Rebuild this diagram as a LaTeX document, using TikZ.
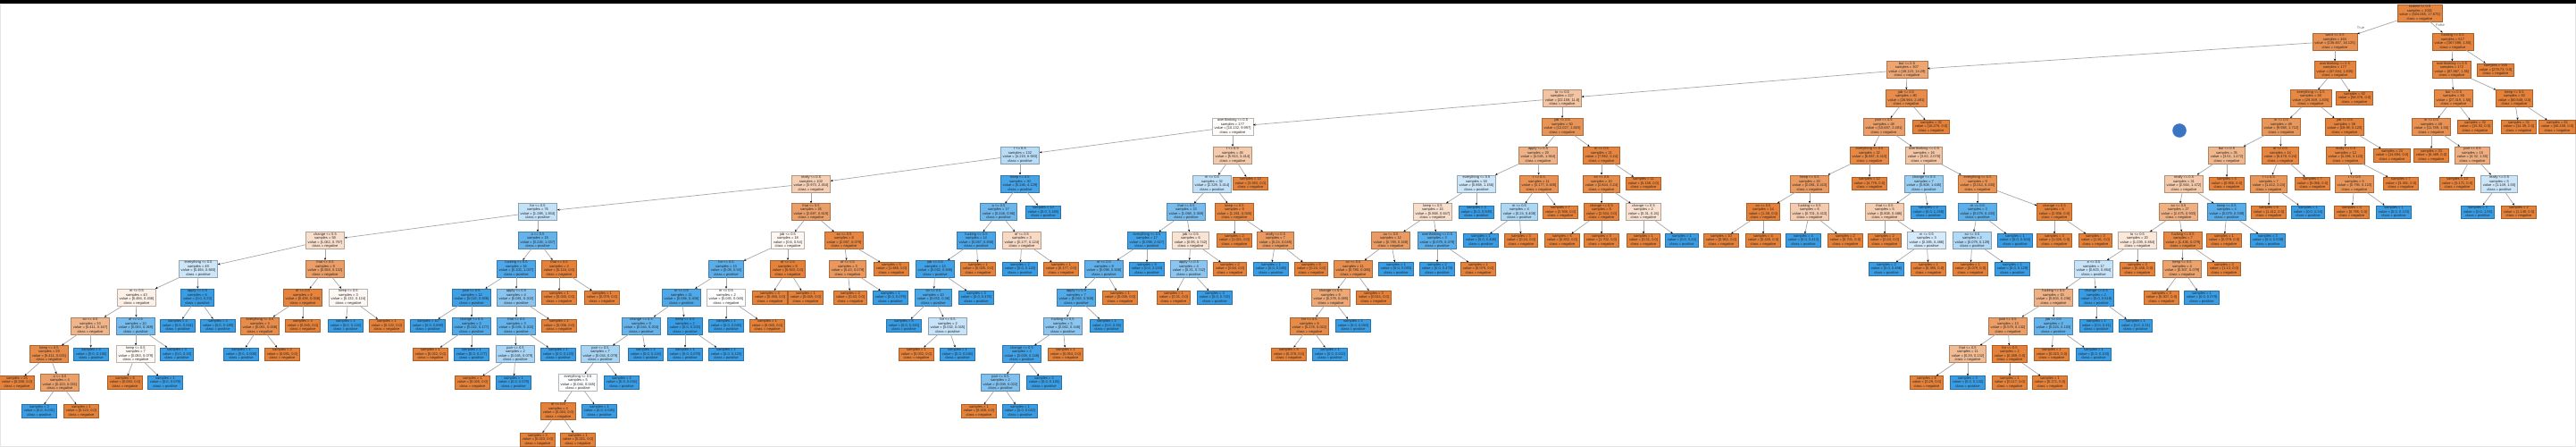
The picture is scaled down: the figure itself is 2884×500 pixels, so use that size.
\documentclass[tikz,border=0pt]{standalone}
\usepackage{fontspec}
\usetikzlibrary{arrows.meta}
\newfontfamily\gvfont{Liberation Sans}
\definecolor{Co}{HTML}{E58139}
\definecolor{Cb}{HTML}{399DE5}
\definecolor{dotblue}{HTML}{3A75C4}
\def\clso{negative}
\def\clsb{positive}
\tikzset{
  tn/.style={line width=0.5pt, align=center,
    font=\gvfont\fontsize{4}{4.5}\selectfont, text=black!85,
    inner xsep=2.4pt, inner ysep=0.9pt},
  edge/.style={draw=black!35, line width=0.7pt,
    -{Stealth[length=2.6pt,width=2.2pt,color=black]}},
  elab/.style={font=\gvfont\fontsize{4}{4.5}\selectfont, text=black!60}
}
% decision node: id, parent, x, depth, class(o/b), percent, feature, samples, values
\newcommand\TN[9]{%
  \node[tn, fill=C#5!#6!white, draw=C#5!#6!white!72!black] (#1) at (#3,{14.5+31.8*#4})
    {#7 <= 0.5\\samples = #8\\value = [#9]\\class = \csname cls#5\endcsname};
  \draw[edge] (#2) -- (#1);}
% leaf: id, parent, x, depth, class, percent, samples, values
\newcommand\TL[8]{%
  \node[tn, fill=C#5!#6!white, draw=C#5!#6!white!72!black] (#1) at (#3,{14.5+31.8*#4})
    {samples = #7\\value = [#8]\\class = \csname cls#5\endcsname};
  \draw[edge] (#2) -- (#1);}
\begin{document}
\begin{tikzpicture}[x=1pt,y=-1pt]
\useasboundingbox (0,0) rectangle (2884,500);
\fill[white] (0,0) rectangle (2884,500);
\draw[black!10, line width=1pt] (0.5,4.5) rectangle (2883.5,499.5);
\fill[black] (0,0) rectangle (2884,4.2);
\fill[dotblue] (2440,146) circle (7.8);
% root
\node[tn, fill=Co!97!white, draw=Co!97!white!72!black] (r) at (2709,14.5)
  {scared <= 0.5\\samples = 1001\\value = [504.065, 17.675]\\class = negative};
\TN{r1}{r}{2614}{1}{o}{88}{want}{484}{136.467, 16.125}
\TN{r2}{r}{2746}{1}{o}{99}{fucking}{517}{367.598, 1.55}
\node[elab] (lt) at (2643,31) {True};
\node[elab] (lf) at (2732,28) {False};
% right of root
\TN{r21}{r2}{2745}{2}{o}{98}{overthinking}{172}{87.867, 1.55}
\TL{r22}{r2}{2794}{2}{o}{100}{345}{279.73, 0.0}
\TN{r211}{r21}{2747}{3}{o}{94}{but}{80}{27.319, 1.55}
\TN{r212}{r21}{2815}{3}{o}{100}{keep}{92}{60.548, 0.0}
\TN{r2111}{r211}{2722}{4}{o}{87}{m}{48}{11.789, 1.55}
\TL{r2112}{r211}{2771}{4}{o}{100}{32}{15.53, 0.0}
\TL{r2121}{r212}{2820}{4}{o}{100}{31}{14.39, 0.0}
\TL{r2122}{r212}{2863}{4}{o}{100}{61}{46.158, 0.0}
\TL{r21111}{r2111}{2722}{5}{o}{100}{33}{6.469, 0.0}
\TN{r21112}{r2111}{2768}{5}{o}{64}{pair}{15}{4.32, 1.55}
\TL{r211121}{r21112}{2751}{6}{o}{100}{10}{3.171, 0.0}
\TN{r211122}{r21112}{2798}{6}{b}{26}{really}{5}{1.149, 1.55}
\TL{r2111221}{r211122}{2774}{7}{b}{100}{3}{0.0, 1.55}
\TL{r2111222}{r211122}{2820}{7}{o}{100}{2}{1.149, 0.0}
% want subtree
\TN{a}{r1}{2135}{2}{o}{71}{but}{307}{49.123, 14.29}
\TN{b}{r1}{2614}{2}{o}{98}{overthinking}{177}{87.344, 1.835}
\TN{b1}{b}{2587}{3}{o}{94}{everything}{85}{29.369, 1.835}
\TL{b2}{b}{2636}{3}{o}{100}{92}{58.376, 0.0}
\TN{b11}{b1}{2554}{4}{o}{83}{m}{49}{9.988, 1.712}
\TN{b12}{b1}{2625}{4}{o}{99}{job}{36}{18.98, 0.123}
\TN{b111}{b11}{2493}{5}{o}{58}{but}{35}{3.51, 1.472}
\TN{b112}{b11}{2553}{5}{o}{96}{of}{14}{6.478, 0.24}
\TN{b121}{b12}{2626}{5}{o}{97}{really}{12}{4.286, 0.123}
\TL{b122}{b12}{2678}{5}{o}{100}{24}{14.694, 0.0}
\TN{b1111}{b111}{2445}{6}{o}{43}{really}{31}{2.564, 1.472}
\TL{b1112}{b111}{2493}{6}{o}{100}{4}{0.956, 0.0}
\TN{b1121}{b112}{2540}{6}{o}{83}{t}{7}{1.412, 0.24}
\TL{b1122}{b112}{2589}{6}{o}{100}{7}{5.066, 0.0}
\TN{b1211}{b121}{2636}{6}{o}{85}{t}{5}{0.795, 0.123}
\TL{b1212}{b121}{2688}{6}{o}{100}{7}{3.491, 0.0}
\TN{b11111}{b1111}{2439}{7}{o}{62}{so}{27}{2.475, 0.933}
\TN{b11112}{b1111}{2493}{7}{b}{85}{keep}{4}{0.079, 0.539}
\TL{b11211}{b1121}{2540}{7}{o}{100}{6}{1.412, 0.0}
\TL{b11212}{b1121}{2584}{7}{b}{100}{1}{0.0, 0.24}
\TL{b12111}{b1211}{2633}{7}{o}{100}{4}{0.795, 0.0}
\TL{b12112}{b1211}{2680}{7}{b}{100}{1}{0.0, 0.123}
\TN{b111111}{b11111}{2393}{8}{o}{18}{to}{20}{1.039, 0.854}
\TN{b111112}{b11111}{2444}{8}{o}{95}{fucking}{7}{1.436, 0.079}
\TL{b111121}{b11112}{2490}{8}{o}{100}{1}{0.079, 0.0}
\TL{b111122}{b11112}{2539}{8}{b}{100}{3}{0.0, 0.539}
\TN{c1}{b111111}{2344}{9}{b}{29}{a}{17}{0.603, 0.854}
\TL{c2}{b111111}{2393}{9}{o}{100}{3}{0.436, 0.0}
\TN{c3}{b111112}{2443}{9}{o}{74}{keep}{4}{0.307, 0.079}
\TL{c4}{b111112}{2490}{9}{o}{100}{3}{1.13, 0.0}
\TN{c11}{c1}{2299}{10}{o}{61}{fucking}{15}{0.603, 0.236}
\TN{c12}{c1}{2347}{10}{b}{100}{change}{2}{0.0, 0.618}
\TL{c31}{c3}{2420}{10}{o}{100}{3}{0.307, 0.0}
\TL{c32}{c3}{2465}{10}{b}{100}{1}{0.0, 0.079}
\TN{c111}{c11}{2248}{11}{o}{77}{pair}{13}{0.579, 0.132}
\TN{c112}{c11}{2299}{11}{b}{78}{job}{2}{0.023, 0.103}
\TL{c121}{c12}{2347}{11}{b}{100}{1}{0.0, 0.31}
\TL{c122}{c12}{2391}{11}{b}{100}{1}{0.0, 0.31}
\TN{c1111}{c111}{2203}{12}{o}{54}{that}{11}{0.29, 0.132}
\TN{c1112}{c111}{2250}{12}{o}{100}{for}{2}{0.289, 0.0}
\TL{c1121}{c112}{2297}{12}{o}{100}{1}{0.023, 0.0}
\TL{c1122}{c112}{2344}{12}{b}{100}{1}{0.0, 0.103}
\TL{c11111}{c1111}{2157}{13}{o}{100}{8}{0.29, 0.0}
\TL{c11112}{c1111}{2203}{13}{b}{100}{3}{0.0, 0.132}
\TL{c11121}{c1112}{2250}{13}{o}{100}{1}{0.117, 0.0}
\TL{c11122}{c1112}{2295}{13}{o}{100}{1}{0.171, 0.0}
% but(307) subtree
\TN{a1}{a}{1749}{3}{o}{47}{to}{227}{22.159, 11.8}
\TN{a2}{a}{2134}{3}{o}{91}{job}{80}{26.964, 2.491}
\TN{a21}{a2}{2109}{4}{o}{77}{pair}{48}{10.687, 2.491}
\TL{a22}{a2}{2162}{4}{o}{100}{32}{16.276, 0.0}
\TN{a211}{a21}{2093}{5}{o}{94}{everything}{32}{6.867, 0.413}
\TN{a212}{a21}{2154}{5}{o}{46}{overthinking}{16}{3.82, 2.078}
\TN{a2111}{a211}{2026}{6}{o}{80}{keep}{20}{2.081, 0.413}
\TL{a2112}{a211}{2093}{6}{o}{100}{12}{4.778, 0.0}
\TN{a2121}{a212}{2154}{6}{b}{51}{change}{7}{0.808, 1.645}
\TN{a2122}{a212}{2214}{6}{o}{86}{everything}{9}{3.014, 0.433}
\TN{a21111}{a2111}{1974}{7}{o}{100}{so}{14}{1.38, 0.0}
\TN{a21112}{a2111}{2026}{7}{o}{41}{fucking}{6}{0.701, 0.413}
\TN{a21211}{a2121}{2110}{7}{o}{40}{that}{5}{0.808, 0.486}
\TL{a21212}{a2121}{2159}{7}{b}{100}{2}{0.0, 1.158}
\TN{a21221}{a2122}{2214}{7}{b}{82}{m}{3}{0.079, 0.433}
\TN{a21222}{a2122}{2300}{7}{o}{100}{change}{6}{2.936, 0.0}
\TL{a211111}{a21111}{1927}{8}{o}{100}{10}{0.962, 0.0}
\TL{a211112}{a21111}{1974}{8}{o}{100}{4}{0.426, 0.0}
\TL{a211121}{a21112}{2019}{8}{b}{100}{4}{0.0, 0.413}
\TL{a211122}{a21112}{2066}{8}{o}{100}{2}{0.701, 0.0}
\TL{a212111}{a21211}{2110}{8}{o}{100}{2}{0.43, 0.0}
\TN{a212112}{a21211}{2157}{8}{b}{21}{m}{3}{0.385, 0.486}
\TN{a212211}{a21221}{2208}{8}{b}{39}{so}{2}{0.079, 0.129}
\TL{a212212}{a21221}{2256}{8}{b}{100}{1}{0.0, 0.304}
\TL{a212221}{a21222}{2300}{8}{o}{100}{3}{1.026, 0.0}
\TL{a212222}{a21222}{2346}{8}{o}{100}{3}{1.91, 0.0}
\TL{d1}{a212112}{2112}{9}{b}{100}{2}{0.0, 0.486}
\TL{d2}{a212112}{2159}{9}{o}{100}{1}{0.385, 0.0}
\TL{d3}{a212211}{2206}{9}{o}{100}{1}{0.079, 0.0}
\TL{d4}{a212211}{2253}{9}{b}{100}{1}{0.0, 0.129}
% to(227) subtree
\TN{e}{a1}{1380}{4}{o}{2}{overthinking}{177}{10.132, 9.997}
\TN{f}{a1}{1749}{4}{o}{85}{job}{50}{12.027, 1.803}
\TN{f1}{f}{1722}{5}{o}{61}{apply}{29}{4.045, 1.564}
\TN{f2}{f}{1793}{5}{o}{97}{m}{21}{7.982, 0.24}
\TN{f11}{f1}{1653}{6}{b}{25}{everything}{18}{0.868, 1.156}
\TN{f12}{f1}{1723}{6}{o}{87}{t}{11}{3.177, 0.408}
\TN{f21}{f2}{1793}{6}{o}{92}{so}{10}{2.844, 0.24}
\TL{f22}{f2}{1840}{6}{o}{100}{11}{5.138, 0.0}
\TN{f111}{f11}{1604}{7}{o}{25}{keep}{15}{0.868, 0.647}
\TL{f112}{f11}{1653}{7}{b}{100}{3}{0.0, 0.509}
\TN{f121}{f12}{1701}{7}{b}{41}{m}{4}{0.24, 0.408}
\TL{f122}{f12}{1747}{7}{o}{100}{7}{2.936, 0.0}
\TN{f211}{f21}{1793}{7}{o}{100}{change}{8}{2.534, 0.0}
\TN{f212}{f21}{1840}{7}{o}{23}{change}{2}{0.31, 0.24}
\TN{f1111}{f111}{1557}{8}{o}{79}{au}{12}{0.789, 0.168}
\TN{f1112}{f111}{1609}{8}{b}{84}{overthinking}{3}{0.079, 0.479}
\TL{f1211}{f121}{1658}{8}{b}{100}{1}{0.0, 0.408}
\TL{f1212}{f121}{1703}{8}{o}{100}{3}{0.24, 0.0}
\TL{f2111}{f211}{1749}{8}{o}{100}{5}{0.832, 0.0}
\TL{f2112}{f211}{1793}{8}{o}{100}{3}{1.702, 0.0}
\TL{f2121}{f212}{1840}{8}{o}{100}{1}{0.31, 0.0}
\TL{f2122}{f212}{1883}{8}{b}{100}{1}{0.0, 0.24}
\TN{f11111}{f1111}{1515}{9}{o}{89}{so}{11}{0.789, 0.085}
\TL{f11112}{f1111}{1563}{9}{b}{100}{1}{0.0, 0.083}
\TL{f11121}{f1112}{1609}{9}{b}{100}{2}{0.0, 0.479}
\TL{f11122}{f1112}{1655}{9}{o}{100}{1}{0.079, 0.0}
\TN{f111111}{f11111}{1490}{10}{o}{69}{change}{8}{0.278, 0.085}
\TL{f111112}{f11111}{1538}{10}{o}{100}{3}{0.511, 0.0}
\TN{f1111111}{f111111}{1466}{11}{o}{92}{for}{6}{0.278, 0.022}
\TL{f1111112}{f111111}{1515}{11}{b}{100}{2}{0.0, 0.063}
\TL{g1}{f1111111}{1443}{12}{o}{100}{5}{0.278, 0.0}
\TL{g2}{f1111111}{1489}{12}{b}{100}{1}{0.0, 0.022}
% overthinking(177) subtree
\TN{e1}{e}{1142}{5}{b}{36}{I}{132}{4.219, 6.583}
\TN{e2}{e}{1380}{5}{o}{42}{t}{45}{5.913, 3.414}
\TN{e21}{e2}{1357}{6}{b}{32}{m}{32}{2.329, 3.414}
\TL{e22}{e2}{1400}{6}{o}{100}{13}{3.583, 0.0}
\TN{e211}{e21}{1328}{7}{b}{68}{that}{23}{1.068, 3.369}
\TN{e212}{e21}{1382}{7}{o}{96}{keep}{9}{1.261, 0.045}
\TN{e2111}{e211}{1284}{8}{b}{96}{everything}{17}{0.098, 2.627}
\TN{e2112}{e211}{1333}{8}{o}{22}{job}{6}{0.95, 0.742}
\TL{e2121}{e212}{1382}{8}{o}{100}{2}{1.021, 0.0}
\TN{e2122}{e212}{1428}{8}{o}{81}{really}{7}{0.24, 0.045}
\TN{e21111}{e2111}{1236}{9}{b}{81}{of}{8}{0.098, 0.508}
\TL{e21112}{e2111}{1284}{9}{b}{100}{9}{0.0, 2.119}
\TN{e21121}{e2112}{1331}{9}{b}{58}{apply}{4}{0.31, 0.742}
\TL{e21122}{e2112}{1377}{9}{o}{100}{2}{0.64, 0.0}
\TL{e21221}{e2122}{1423}{9}{b}{100}{1}{0.0, 0.045}
\TL{e21222}{e2122}{1468}{9}{o}{100}{6}{0.24, 0.0}
\TN{e211111}{e21111}{1205}{10}{b}{88}{apply}{7}{0.062, 0.508}
\TL{e211112}{e21111}{1254}{10}{o}{100}{1}{0.036, 0.0}
\TL{e211211}{e21121}{1314}{10}{o}{100}{1}{0.31, 0.0}
\TL{e211212}{e21121}{1360}{10}{b}{100}{3}{0.0, 0.742}
\TN{e2111111}{e211111}{1190}{11}{b}{58}{fucking}{5}{0.062, 0.148}
\TL{e2111112}{e211111}{1239}{11}{b}{100}{2}{0.0, 0.36}
\TN{h1}{e2111111}{1144}{12}{b}{95}{change}{4}{0.008, 0.148}
\TL{h2}{e2111111}{1193}{12}{o}{100}{1}{0.054, 0.0}
\TN{h11}{h1}{1120}{13}{b}{64}{pair}{2}{0.008, 0.022}
\TL{h12}{h1}{1169}{13}{b}{100}{2}{0.0, 0.126}
\TL{h111}{h11}{1096}{14}{o}{100}{1}{0.008, 0.0}
\TL{h112}{h11}{1142}{14}{b}{100}{1}{0.0, 0.022}
% I(132) subtree
\TN{i1}{e1}{908}{6}{o}{38}{really}{102}{3.973, 2.454}
\TN{i2}{e1}{1142}{6}{b}{94}{keep}{30}{0.246, 4.129}
\TN{i21}{i2}{1118}{7}{b}{74}{a}{17}{0.246, 0.96}
\TL{i22}{i2}{1168}{7}{b}{100}{13}{0.0, 3.169}
\TN{i211}{i21}{1093}{8}{b}{92}{fucking}{14}{0.067, 0.836}
\TN{i212}{i21}{1144}{8}{o}{30}{of}{3}{0.177, 0.124}
\TN{i2111}{i211}{1047}{9}{b}{96}{job}{13}{0.032, 0.836}
\TL{i2112}{i211}{1095}{9}{o}{100}{1}{0.035, 0.0}
\TL{i2121}{i212}{1142}{9}{b}{100}{2}{0.0, 0.124}
\TL{i2122}{i212}{1188}{9}{o}{100}{1}{0.177, 0.0}
\TN{i21111}{i2111}{1045}{10}{b}{91}{so}{10}{0.032, 0.36}
\TL{i21112}{i2111}{1093}{10}{b}{100}{3}{0.0, 0.476}
\TL{i211111}{i21111}{1012}{11}{b}{100}{8}{0.0, 0.315}
\TN{i211112}{i21111}{1061}{11}{b}{29}{for}{2}{0.032, 0.045}
\TL{i2111121}{i211112}{1026}{12}{o}{100}{1}{0.032, 0.0}
\TL{i2111122}{i211112}{1072}{12}{b}{100}{1}{0.0, 0.045}
% really(102) subtree
\TN{j1}{i1}{602}{7}{b}{30}{for}{76}{1.288, 1.834}
\TN{j2}{i1}{908}{7}{o}{77}{that}{26}{2.687, 0.619}
\TN{j11}{j1}{364}{8}{o}{25}{change}{58}{1.062, 0.797}
\TN{j12}{j1}{602}{8}{b}{78}{a}{18}{0.226, 1.037}
\TN{j21}{j2}{882}{8}{o}{7}{job}{18}{0.6, 0.54}
\TN{j22}{j2}{945}{8}{o}{96}{so}{8}{2.087, 0.079}
\TN{j111}{j11}{222}{9}{b}{26}{everything}{49}{0.494, 0.665}
\TN{j112}{j11}{364}{9}{o}{77}{that}{9}{0.568, 0.132}
\TN{j121}{j12}{578}{9}{b}{90}{fucking}{16}{0.103, 1.037}
\TN{j122}{j12}{626}{9}{o}{100}{that}{2}{0.124, 0.0}
\TN{j211}{j21}{813}{9}{b}{83}{for}{13}{0.09, 0.54}
\TN{j212}{j21}{882}{9}{o}{100}{of}{5}{0.503, 0.0}
\TN{j221}{j22}{949}{9}{o}{82}{of}{3}{0.43, 0.079}
\TL{j222}{j22}{998}{9}{o}{100}{5}{1.666, 0.0}
\TN{k1}{j111}{153}{10}{o}{12}{m}{43}{0.494, 0.436}
\TN{k2}{j111}{221}{10}{b}{100}{apply}{6}{0.0, 0.23}
\TN{k3}{j112}{339}{10}{o}{98}{of}{6}{0.436, 0.008}
\TN{k4}{j112}{390}{10}{o}{6}{keep}{3}{0.132, 0.124}
\TN{k5}{j121}{528}{10}{b}{97}{pair}{12}{0.022, 0.836}
\TN{k6}{j121}{578}{10}{b}{60}{apply}{4}{0.081, 0.202}
\TL{k7}{j122}{626}{10}{o}{100}{1}{0.045, 0.0}
\TL{k8}{j122}{674}{10}{o}{100}{1}{0.079, 0.0}
\TN{k9}{j211}{763}{10}{b}{89}{m}{11}{0.046, 0.406}
\TN{k10}{j211}{813}{10}{o}{0}{m}{2}{0.045, 0.045}
\TL{k11}{j212}{862}{10}{o}{100}{4}{0.456, 0.0}
\TL{k12}{j212}{902}{10}{o}{100}{1}{0.045, 0.0}
\TL{k13}{j221}{952}{10}{o}{100}{2}{0.43, 0.0}
\TL{k14}{j221}{997}{10}{b}{100}{1}{0.0, 0.079}
\TN{l1}{k1}{101}{11}{o}{59}{so}{33}{0.411, 0.167}
\TN{l2}{k1}{152}{11}{b}{69}{of}{10}{0.083, 0.269}
\TL{l3}{k2}{199}{11}{b}{100}{3}{0.0, 0.041}
\TL{l4}{k2}{244}{11}{b}{100}{3}{0.0, 0.189}
\TN{l5}{k3}{291}{11}{o}{91}{everything}{3}{0.091, 0.008}
\TL{l6}{k3}{339}{11}{o}{100}{3}{0.345, 0.0}
\TL{l7}{k4}{387}{11}{b}{100}{2}{0.0, 0.124}
\TL{l8}{k4}{433}{11}{o}{100}{1}{0.132, 0.0}
\TL{l9}{k5}{479}{11}{b}{100}{10}{0.0, 0.659}
\TN{l10}{k5}{528}{11}{b}{88}{change}{2}{0.022, 0.177}
\TN{l11}{k6}{578}{11}{b}{78}{that}{3}{0.045, 0.202}
\TL{l12}{k6}{626}{11}{o}{100}{1}{0.036, 0.0}
\TN{l13}{k9}{718}{11}{b}{78}{change}{9}{0.044, 0.203}
\TN{l14}{k9}{767}{11}{b}{100}{keep}{2}{0.0, 0.203}
\TL{l15}{k10}{813}{11}{b}{100}{1}{0.0, 0.045}
\TL{l16}{k10}{859}{11}{o}{100}{1}{0.045, 0.0}
\TN{m1}{l1}{55}{12}{o}{92}{keep}{29}{0.411, 0.031}
\TL{m2}{l1}{102}{12}{b}{100}{4}{0.0, 0.136}
\TN{m3}{l2}{152}{12}{o}{5}{keep}{7}{0.083, 0.079}
\TL{m4}{l2}{198}{12}{b}{100}{3}{0.0, 0.19}
\TL{m5}{l5}{270}{12}{b}{100}{1}{0.0, 0.008}
\TL{m6}{l5}{316}{12}{o}{100}{2}{0.091, 0.0}
\TL{m7}{l10}{482}{12}{o}{100}{1}{0.022, 0.0}
\TL{m8}{l10}{528}{12}{b}{100}{1}{0.0, 0.177}
\TN{m9}{l11}{577}{12}{b}{43}{pair}{2}{0.045, 0.079}
\TL{m10}{l11}{625}{12}{b}{100}{1}{0.0, 0.123}
\TN{m11}{l13}{672}{12}{b}{44}{pair}{7}{0.044, 0.079}
\TL{m12}{l13}{723}{12}{b}{100}{2}{0.0, 0.124}
\TL{m13}{l14}{767}{12}{b}{100}{1}{0.0, 0.079}
\TL{m14}{l14}{813}{12}{b}{100}{1}{0.0, 0.123}
\TL{n1}{m1}{19}{13}{o}{100}{25}{0.288, 0.0}
\TN{n2}{m1}{67}{13}{o}{75}{a}{4}{0.123, 0.031}
\TL{n3}{m3}{140}{13}{o}{100}{6}{0.083, 0.0}
\TL{n4}{m3}{185}{13}{b}{100}{1}{0.0, 0.079}
\TL{n5}{m9}{529}{13}{o}{100}{1}{0.045, 0.0}
\TL{n6}{m9}{575}{13}{b}{100}{1}{0.0, 0.079}
\TN{n7}{m11}{647}{13}{b}{2}{everything}{5}{0.044, 0.045}
\TL{n8}{m11}{696}{13}{b}{100}{2}{0.0, 0.034}
\TL{o1}{n2}{44}{14}{b}{100}{3}{0.0, 0.031}
\TL{o2}{n2}{91}{14}{o}{100}{1}{0.123, 0.0}
\TN{o3}{n7}{625}{14}{o}{100}{of}{4}{0.044, 0.0}
\TL{o4}{n7}{671}{14}{b}{100}{1}{0.0, 0.045}
\TL{p1}{o3}{602}{15}{o}{100}{3}{0.023, 0.0}
\TL{p2}{o3}{647}{15}{o}{100}{1}{0.021, 0.0}
\end{tikzpicture}
\end{document}
